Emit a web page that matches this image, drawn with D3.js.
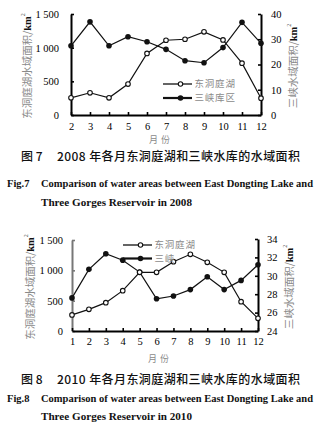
<!DOCTYPE html>
<html><head><meta charset="utf-8">
<script src="https://cdn.jsdelivr.net/npm/d3@7"></script>
<style>
body{margin:0;background:#fff}
svg{display:block}
</style></head><body>
<svg id="fig" width="322" height="434"></svg>
<script>
// Monthly water areas (km²): East Dongting Lake (left axis) and the Three Gorges Reservoir (right axis)
const months2008 = [2, 3, 4, 5, 6, 7, 8, 9, 10, 11, 12];
const lake2008 = [255, 330, 255, 460, 915, 1110, 1125, 1235, 1115, 770, 250];
const gorges2008 = [27.4, 36.9, 27.4, 31.0, 29.0, 26.0, 21.5, 20.7, 26.7, 36.7, 28.4];

const months2010 = [1, 2, 3, 4, 5, 6, 7, 8, 9, 10, 11, 12];
const lake2010 = [265, 357, 467, 665, 967, 967, 1142, 1264, 1132, 967, 483, 209];
const gorges2010 = [27.6, 30.7, 32.4, 31.7, 30.4, 27.5, 27.8, 28.5, 29.9, 28.5, 29.5, 31.2];

const lakeTicks = [0, 500, 1000, 1500];
const gorgesTicks2008 = [0, 10, 20, 30, 40];
const gorgesTicks2010 = [24, 26, 28, 30, 32, 34];

const svg = d3.select("#fig");
const serif = "'Liberation Serif','DejaVu Serif',serif";
const cjk = "'Noto Sans CJK SC','Noto Sans CJK JP',sans-serif";

const fmtLake = d => d >= 1000 ? `${Math.floor(d / 1000)} ${String(d % 1000).padStart(3, "0")}` : String(d);

function styleAxis(sel, color) {
  sel.attr("font-family", serif).attr("font-size", 10.5);
  sel.select(".domain").attr("stroke", color).attr("stroke-width", 2);
  sel.selectAll(".tick line").attr("stroke", color).attr("stroke-width", 1.6);
  sel.selectAll(".tick text").attr("fill", "#000");
}

function axisTitle(g, x, y, label) {
  const t = g.append("text")
    .attr("transform", `translate(${x},${y}) rotate(-90)`)
    .attr("text-anchor", "middle").attr("dy", "0.35em")
    .attr("font-family", cjk).attr("font-size", 10.5).attr("fill", "#8a8a8a");
  t.append("tspan").text(label + "/");
  t.append("tspan").attr("font-family", serif).attr("font-weight", "bold").attr("fill", "#111").text("km");
  t.append("tspan").attr("font-family", serif).attr("font-size", 6).attr("dy", "-0.9em").attr("fill", "#555").text("2");
}

function drawPanel(p) {
  const g = svg.append("g");
  const x = d3.scaleLinear().domain(d3.extent(p.months)).range([p.x0, p.x1]);
  const yL = d3.scaleLinear().domain([0, 1500]).range([p.yBase, p.yTopL]);
  const yR = d3.scaleLinear().domain(d3.extent(p.rTicks)).range([p.yBase, p.yTopR]);

  const bottom = g.append("g").attr("transform", `translate(0,${p.yBase})`)
    .call(d3.axisBottom(x).tickValues(p.months).tickFormat(d3.format("d"))
      .tickSizeInner(-3).tickSizeOuter(0).tickPadding(p.xPad));
  styleAxis(bottom, "#000");

  const left = g.append("g").attr("transform", `translate(${p.x0},0)`)
    .call(d3.axisLeft(yL).tickValues(lakeTicks).tickFormat(fmtLake)
      .tickSizeInner(-3).tickSizeOuter(0).tickPadding(p.lPad));
  styleAxis(left, p.leftColor);

  const right = g.append("g").attr("transform", `translate(${p.x1},0)`)
    .call(d3.axisRight(yR).tickValues(p.rTicks).tickFormat(d3.format("d"))
      .tickSizeInner(-3).tickSizeOuter(0).tickPadding(p.rPad));
  styleAxis(right, "#000");
  bottom.raise();

  // series lines
  const lakeLine = d3.line().x((d, i) => x(p.months[i])).y(d => yL(d));
  const gorgesLine = d3.line().x((d, i) => x(p.months[i])).y(d => yR(d));
  g.append("path").datum(p.lake).attr("d", lakeLine)
    .attr("fill", "none").attr("stroke", "#111").attr("stroke-width", 1.2);
  g.append("path").datum(p.gorges).attr("d", gorgesLine)
    .attr("fill", "none").attr("stroke", "#111").attr("stroke-width", 1.2);

  // markers
  g.selectAll(null).data(p.gorges).join("circle")
    .attr("cx", (d, i) => x(p.months[i])).attr("cy", d => yR(d)).attr("r", 2.8)
    .attr("fill", "#111");
  g.selectAll(null).data(p.lake).join("circle")
    .attr("cx", (d, i) => x(p.months[i])).attr("cy", d => yL(d)).attr("r", 2.3)
    .attr("fill", "#fff").attr("stroke", "#111").attr("stroke-width", 1.1);

  // legend
  const lg = g.append("g");
  p.legend.forEach((item, k) => {
    const yy = p.legY[k];
    lg.append("line").attr("x1", p.legX0).attr("x2", p.legX1).attr("y1", yy).attr("y2", yy)
      .attr("stroke", "#111").attr("stroke-width", k === 0 ? 1.3 : 2.2);
    const cx = (p.legX0 + p.legX1) / 2 + 3;
    if (k === 0) {
      lg.append("circle").attr("cx", cx).attr("cy", yy).attr("r", 2.2)
        .attr("fill", "#fff").attr("stroke", "#111").attr("stroke-width", 1.1);
    } else {
      lg.append("circle").attr("cx", cx).attr("cy", yy).attr("r", 2.8).attr("fill", "#111");
    }
    lg.append("text").attr("x", p.legX1 + 2.5).attr("y", yy).attr("dy", "0.36em")
      .attr("font-family", cjk).attr("font-size", 9.5).attr("letter-spacing", 0.8)
      .attr("fill", "#8a8a8a").text(item);
  });

  axisTitle(g, p.ltX, p.ltY, "东洞庭湖水域面积");
  axisTitle(g, p.rtX, p.rtY, "三峡水域面积");

  g.append("text").attr("x", p.monthX).attr("y", p.monthY).attr("dy", "0.35em")
    .attr("text-anchor", "middle").attr("font-family", cjk).attr("font-size", 9)
    .attr("letter-spacing", 3).attr("fill", "#8a8a8a").text("月份");

  // captions
  const cap = p.caption;
  g.append("text").attr("x", 21).attr("y", cap.y).attr("dy", "0.36em")
    .attr("font-family", cjk).attr("font-size", 12).attr("font-weight", 500).attr("fill", "#111")
    .text(cap.num);
  g.append("text").attr("x", 57).attr("y", cap.y).attr("dy", "0.36em")
    .attr("font-family", cjk).attr("font-size", 12).attr("font-weight", 500).attr("fill", "#111")
    .attr("textLength", 243).attr("lengthAdjust", "spacing").text(cap.zh);
  g.append("text").attr("x", 7).attr("y", cap.y1).attr("dy", "0.35em")
    .attr("font-family", serif).attr("font-size", 10.5).attr("font-weight", "bold").attr("fill", "#111")
    .text(cap.fig);
  g.append("text").attr("x", 41).attr("y", cap.y1).attr("dy", "0.35em")
    .attr("font-family", serif).attr("font-size", 10.5).attr("font-weight", "bold").attr("fill", "#111")
    .attr("textLength", 272).attr("lengthAdjust", "spacingAndGlyphs").text(cap.en1);
  g.append("text").attr("x", 41).attr("y", cap.y2).attr("dy", "0.35em")
    .attr("font-family", serif).attr("font-size", 10.5).attr("font-weight", "bold").attr("fill", "#111")
    .attr("textLength", 151).attr("lengthAdjust", "spacingAndGlyphs").text(cap.en2);
}

drawPanel({
  months: months2008, lake: lake2008, gorges: gorges2008, rTicks: gorgesTicks2008,
  x0: 71, x1: 261, yBase: 115, yTopL: 14, yTopR: 14,
  xPad: 8, lPad: 12, rPad: 10, leftColor: "#000",
  legend: ["东洞庭湖", "三峡库区"], legX0: 163, legX1: 192, legY: [84, 98],
  ltX: 27, ltY: 66, rtX: 293, rtY: 66, monthX: 161, monthY: 139.5,
  caption: {
    y: 157, y1: 183, y2: 202, num: "图 7",
    zh: "2008 年各月东洞庭湖和三峡水库的水域面积",
    fig: "Fig.7", en1: "Comparison of water areas between East Dongting Lake and",
    en2: "Three Gorges Reservoir in 2008"
  }
});

drawPanel({
  months: months2010, lake: lake2010, gorges: gorges2010, rTicks: gorgesTicks2010,
  x0: 72, x1: 258, yBase: 331, yTopL: 240, yTopR: 239,
  xPad: 7, lPad: 9, rPad: 9, leftColor: "#777",
  legend: ["东洞庭湖", "三峡"], legX0: 123, legX1: 152, legY: [245, 258.5],
  ltX: 30, ltY: 287, rtX: 289, rtY: 287, monthX: 160, monthY: 359,
  caption: {
    y: 380, y1: 398, y2: 416, num: "图 8",
    zh: "2010 年各月东洞庭湖和三峡水库的水域面积",
    fig: "Fig.8", en1: "Comparison of water areas between East Dongting Lake and",
    en2: "Three Gorges Reservoir in 2010"
  }
});
</script>
</body></html>
